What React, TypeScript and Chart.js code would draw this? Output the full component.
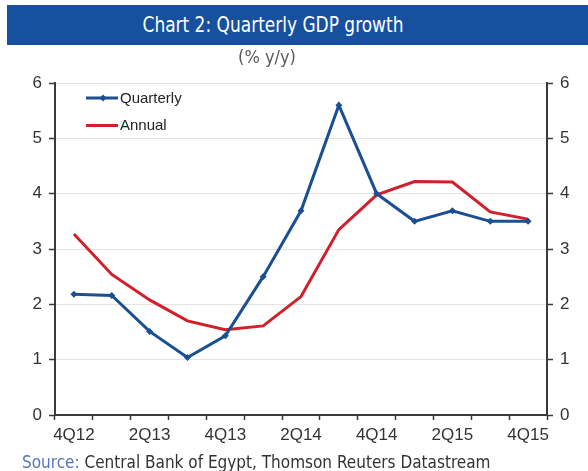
import React, { useEffect, useRef } from "react";
import { Chart, registerables } from "chart.js";

Chart.register(...registerables);

const categories = ["4Q12", "1Q13", "2Q13", "3Q13", "4Q13", "1Q14", "2Q14", "3Q14", "4Q14", "1Q15", "2Q15", "3Q15", "4Q15"];
const shownLabels = ["4Q12", "2Q13", "4Q13", "2Q14", "4Q14", "2Q15", "4Q15"];
const quarterly = [2.18, 2.16, 1.51, 1.04, 1.43, 2.5, 3.69, 5.6, 4.0, 3.5, 3.69, 3.5, 3.5];
const annual = [3.27, 2.54, 2.08, 1.7, 1.54, 1.61, 2.14, 3.35, 3.98, 4.22, 4.21, 3.67, 3.54];
const yTicks = [0, 1, 2, 3, 4, 5, 6];

const BLUE = "#1a4f93";
const RED = "#d11f2c";
const AXIS = "#3a3a3a";
const FONT = "'Liberation Sans', Arial, sans-serif";
const COND = "'DejaVu Sans Condensed', sans-serif";

const legendPlugin = {
  id: "insideLegend",
  afterDraw(chart: any) {
    const ctx = chart.ctx;
    ctx.save();
    const items = [
      { label: "Quarterly", color: BLUE, marker: true, y: 98 },
      { label: "Annual", color: RED, marker: false, y: 125.5 },
    ];
    for (const it of items) {
      ctx.strokeStyle = it.color;
      ctx.lineWidth = 3;
      ctx.beginPath();
      ctx.moveTo(86, it.y);
      ctx.lineTo(118, it.y);
      ctx.stroke();
      if (it.marker) {
        ctx.fillStyle = it.color;
        ctx.beginPath();
        ctx.moveTo(103, it.y - 3.5);
        ctx.lineTo(106.5, it.y);
        ctx.lineTo(103, it.y + 3.5);
        ctx.lineTo(99.5, it.y);
        ctx.closePath();
        ctx.fill();
      }
      ctx.fillStyle = "#222";
      ctx.font = `15px ${FONT}`;
      ctx.textBaseline = "middle";
      ctx.textAlign = "left";
      ctx.fillText(it.label, 120, it.y + 0.5);
    }
    ctx.restore();
  },
};

export default function App() {
  const ref = useRef<HTMLCanvasElement>(null);
  useEffect(() => {
    if (!ref.current) return;
    const yAxisCommon = (position: "left" | "right", width: number, grid: boolean) => ({
      type: "linear" as const,
      position,
      min: 0,
      max: 6,
      afterBuildTicks: (scale: any) => {
        scale.ticks = yTicks.map((v) => ({ value: v }));
      },
      afterFit: (scale: any) => {
        scale.width = width;
      },
      border: { display: true, color: AXIS, width: 2 },
      grid: {
        display: true,
        drawOnChartArea: grid,
        color: "#e4e4e4",
        lineWidth: 1,
        drawTicks: true,
        tickLength: 6,
        tickColor: AXIS,
        tickWidth: 1.5,
      },
      ticks: {
        color: "#333",
        font: { family: FONT, size: 17 },
        padding: 7,
      },
    });
    const chart = new Chart(ref.current, {
      type: "line",
      data: {
        labels: categories,
        datasets: [
          {
            label: "Quarterly",
            data: quarterly,
            borderColor: BLUE,
            backgroundColor: BLUE,
            borderWidth: 3,
            pointStyle: "rectRot",
            pointRadius: 3.5,
            pointBorderWidth: 0,
            tension: 0,
            yAxisID: "y",
          },
          {
            label: "Annual",
            data: annual,
            borderColor: RED,
            backgroundColor: RED,
            borderWidth: 3,
            pointRadius: 0,
            tension: 0,
            yAxisID: "y",
          },
        ],
      },
      options: {
        animation: false,
        responsive: false,
        maintainAspectRatio: false,
        layout: { padding: { top: 83, left: 10, right: 0, bottom: 26 } },
        plugins: {
          legend: { display: false },
          title: { display: false },
          tooltip: { enabled: false },
        },
        scales: {
          x: {
            type: "category",
            offset: true,
            afterFit: (scale: any) => {
              scale.height = 30;
            },
            border: { display: true, color: AXIS, width: 2 },
            grid: {
              display: true,
              offset: true,
              drawOnChartArea: false,
              drawTicks: true,
              tickLength: 5,
              tickColor: AXIS,
              tickWidth: 1.5,
            },
            ticks: {
              autoSkip: false,
              maxRotation: 0,
              color: "#333",
              font: { family: FONT, size: 17 },
              padding: 5,
              callback: (_v: any, i: number) => (shownLabels.includes(categories[i]) ? categories[i] : ""),
            },
          },
          y: yAxisCommon("left", 45, true),
          y2: yAxisCommon("right", 41, false),
        },
      },
      plugins: [legendPlugin],
    });
    return () => chart.destroy();
  }, []);

  return (
    <div style={{ position: "fixed", left: 0, top: 0, width: 588, height: 471, background: "#fff", overflow: "hidden" }}>
      <canvas ref={ref} width={588} height={471} style={{ position: "absolute", left: 0, top: 0 }} />
      <div
        style={{
          position: "absolute",
          left: 7,
          top: 5,
          width: 581,
          height: 40,
          background: "#17509e",
        }}
      />
      <div
        style={{
          position: "absolute",
          left: 273 - 200,
          top: 5,
          width: 400,
          height: 40,
          lineHeight: "40px",
          textAlign: "center",
          color: "#fff",
          fontFamily: COND,
          fontSize: 21,
          transform: "scaleX(0.9)",
        }}
      >
        Chart 2: Quarterly GDP growth
      </div>
      <div
        style={{
          position: "absolute",
          left: 267 - 100,
          top: 46,
          width: 200,
          textAlign: "center",
          color: "#5a5a5a",
          fontFamily: COND,
          fontSize: 18,
          lineHeight: "22px",
        }}
      >
        (% y/y)
      </div>
      <div
        style={{
          position: "absolute",
          left: 22,
          top: 452,
          whiteSpace: "nowrap",
          color: "#333",
          fontFamily: COND,
          fontSize: 17,
          lineHeight: "20px",
        }}
      >
        <span style={{ color: "#5577b5" }}>Source:</span> Central Bank of Egypt, Thomson Reuters Datastream
      </div>
    </div>
  );
}
